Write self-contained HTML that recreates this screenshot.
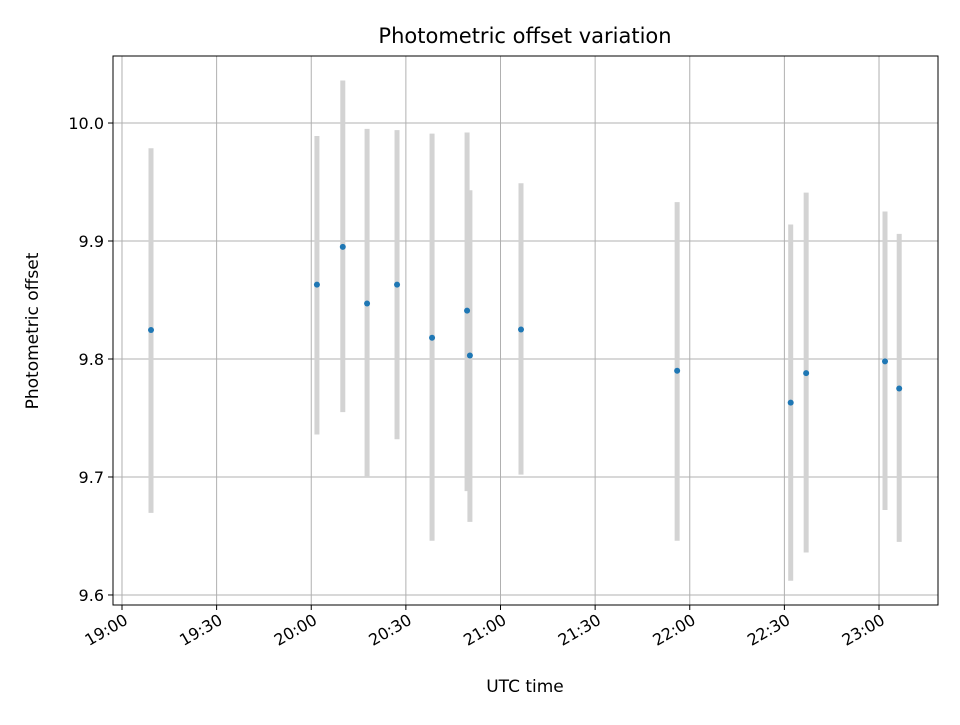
<!DOCTYPE html>
<html><head><meta charset="utf-8"><style>
body{margin:0;background:#fff;font-family:"Liberation Sans","DejaVu Sans",sans-serif}
</style></head><body>
<svg id="chart" width="960" height="720" xmlns="http://www.w3.org/2000/svg" font-family="DejaVu Sans, Liberation Sans, sans-serif">
<rect width="960" height="720" fill="#fff"/>
<g id="grid"></g>
<g id="bars"></g>
<g id="pts"></g>
<rect x="113" y="56" width="825" height="549" fill="none" stroke="#000" stroke-width="1"/>
<g id="xt"></g>
<g id="yt"></g>
<text x="525" y="43" text-anchor="middle" font-size="21">Photometric offset variation</text>
<text x="525" y="692" text-anchor="middle" font-size="17">UTC time</text>
<text transform="translate(38,331) rotate(-90)" text-anchor="middle" font-size="17">Photometric offset</text>
</svg>
<script>
// minutes since 19:00 UTC
const times=[9.2,61.8,70,77.7,87.2,98.3,109.4,110.3,126.5,176,212,216.9,241.9,246.4];
const offsets=[9.8246,9.863,9.895,9.847,9.863,9.818,9.841,9.803,9.825,9.790,9.763,9.788,9.798,9.775];
const errHigh=[0.154,0.126,0.141,0.148,0.131,0.173,0.151,0.140,0.124,0.143,0.151,0.153,0.127,0.131];
const errLow=[0.155,0.127,0.140,0.147,0.131,0.172,0.153,0.141,0.123,0.144,0.151,0.152,0.126,0.130];
const xTickVals=[0,30,60,90,120,150,180,210,240];
const xTickLabels=["19:00","19:30","20:00","20:30","21:00","21:30","22:00","22:30","23:00"];
const yTickVals=[9.6,9.7,9.8,9.9,10.0];
const yTickLabels=["9.6","9.7","9.8","9.9","10.0"];

const L=113,R=938,T=56,B=605;
const xMin=-2.85,xMax=258.7,yMin=9.5915,yMax=10.0568;
const xs=v=>L+(v-xMin)/(xMax-xMin)*(R-L);
const ys=v=>B-(v-yMin)/(yMax-yMin)*(B-T);
const NS="http://www.w3.org/2000/svg";
function mk(tag,attrs,parent){const e=document.createElementNS(NS,tag);for(const k in attrs)e.setAttribute(k,attrs[k]);parent.appendChild(e);return e;}
const grid=document.getElementById('grid'),xt=document.getElementById('xt'),yt=document.getElementById('yt');
xTickVals.forEach((v,i)=>{
  const x=xs(v);
  const g=mk('line',{x1:x,x2:x,y1:T,y2:B,stroke:'#b0b0b0','stroke-width':1},grid);
  
  
  const t=mk('line',{x1:x,x2:x,y1:B,y2:B+5,stroke:'#000'},xt);
  
  
  const tx=mk('text',{x:x+4,y:B+19,'text-anchor':'end','font-size':16,transform:`rotate(-30 ${x+4} ${B+13})`},xt);
  tx.textContent=xTickLabels[i];
  
  
});
yTickVals.forEach((v,i)=>{
  const y=ys(v);
  const g=mk('line',{x1:L,x2:R,y1:y,y2:y,stroke:'#b0b0b0','stroke-width':1},grid);
  
  
  const t=mk('line',{x1:L-5,x2:L,y1:y,y2:y,stroke:'#000'},yt);
  
  
  const tx=mk('text',{x:L-9,y:y+6,'text-anchor':'end','font-size':16},yt);
  tx.textContent=yTickLabels[i];
  
  
});
const bars=document.getElementById('bars'),pts=document.getElementById('pts');
times.forEach((t,i)=>{
  const x=xs(t);
  const b=mk('line',{x1:x,x2:x,y1:ys(offsets[i]+errHigh[i]),y2:ys(offsets[i]-errLow[i]),stroke:'#d3d3d3','stroke-width':5},bars);
  
  
  const c=mk('circle',{cx:x,cy:ys(offsets[i]),r:3,fill:'#1f77b4'},pts);
  
  
});
</script>
</body></html>
